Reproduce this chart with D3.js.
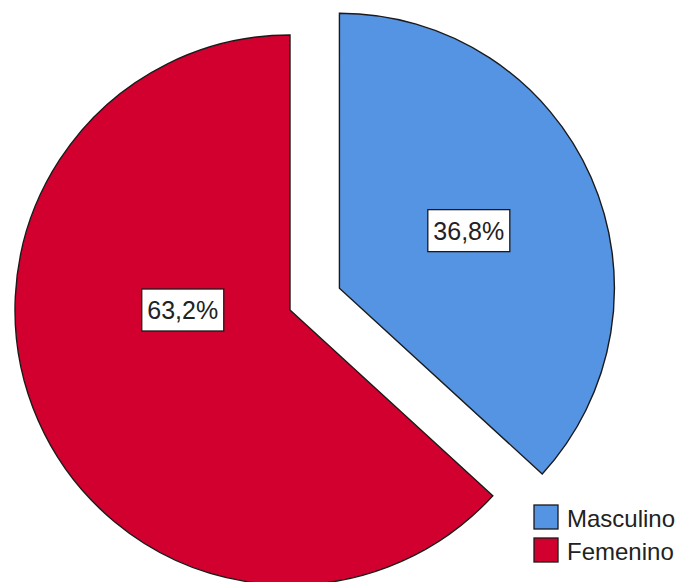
<!DOCTYPE html>
<html>
<head>
<meta charset="utf-8">
<script src="https://cdn.jsdelivr.net/npm/d3@7"></script>
<style>
  body { margin: 0; background: #fff; }
  svg { display: block; font-family: "Liberation Sans", Arial, sans-serif; }
</style>
</head>
<body>
<svg id="chart" width="686" height="582"></svg>
<script>
// data
const categories = ["Masculino", "Femenino"]
const percents = [36.8, 63.2]
const colors = ["#5593e3", "#d2002e"]
const exploded = [true, false]

// label placement (fraction of radius, angle in degrees from 12 o'clock)
const labelPos = [
  { r: 0.515, angle: 66 },
  { r: 0.39, angle: 270 }
]

const width = 686
const height = 582
const radius = 275
const cx = 290, cy = 310
const explode = 54

const svg = d3.select("#chart")

const pie = d3.pie().sort(null).value(d => d.value)
const arcs = pie(categories.map((c, i) => ({ name: c, value: percents[i], i: i })))

const arc = d3.arc().innerRadius(0).outerRadius(radius)

const g = svg.append("g").attr("transform", `translate(${cx},${cy})`)

const slice = g.selectAll(".slice")
  .data(arcs)
  .enter()
  .append("g")
  .attr("class", "slice")
  .attr("transform", d => {
    if (!exploded[d.data.i]) return null
    const mid = (d.startAngle + d.endAngle) / 2
    return `translate(${Math.sin(mid) * explode},${-Math.cos(mid) * explode})`
  })

slice.append("path")
  .attr("d", arc)
  .attr("fill", d => colors[d.data.i])
  .attr("stroke", "#1a1a1a")
  .attr("stroke-width", 1.4)
  .attr("stroke-linejoin", "miter")

// labels in white boxes
slice.each(function(d) {
  const p = labelPos[d.data.i]
  const a = p.angle * Math.PI / 180
  const x = Math.sin(a) * p.r * radius
  const y = -Math.cos(a) * p.r * radius
  const grp = d3.select(this).append("g").attr("transform", `translate(${x},${y})`)
  const txt = grp.append("text")
    .attr("text-anchor", "middle")
    .attr("dy", "0.36em")
    .attr("font-size", 25)
    .attr("fill", "#222")
    .text(d.data.value.toFixed(1).replace(".", ",") + "%")
  const bb = txt.node().getBBox()
  grp.insert("rect", "text")
    .attr("x", -41)
    .attr("y", -21)
    .attr("width", 82)
    .attr("height", 42)
    .attr("fill", "#fff")
    .attr("stroke", "#1a1a1a")
    .attr("stroke-width", 1.3)
})

// legend
const legend = svg.append("g").attr("transform", "translate(534,505)")
const item = legend.selectAll(".item")
  .data(categories)
  .enter()
  .append("g")
  .attr("transform", (d, i) => `translate(0,${i * 33})`)

item.append("rect")
  .attr("width", 24)
  .attr("height", 24)
  .attr("fill", (d, i) => colors[i])
  .attr("stroke", "#1a1a1a")
  .attr("stroke-width", 1.3)

item.append("text")
  .attr("x", 33)
  .attr("y", 22)
  .attr("font-size", 24)
  .attr("fill", "#222")
  .text(d => d)
</script>
</body>
</html>
